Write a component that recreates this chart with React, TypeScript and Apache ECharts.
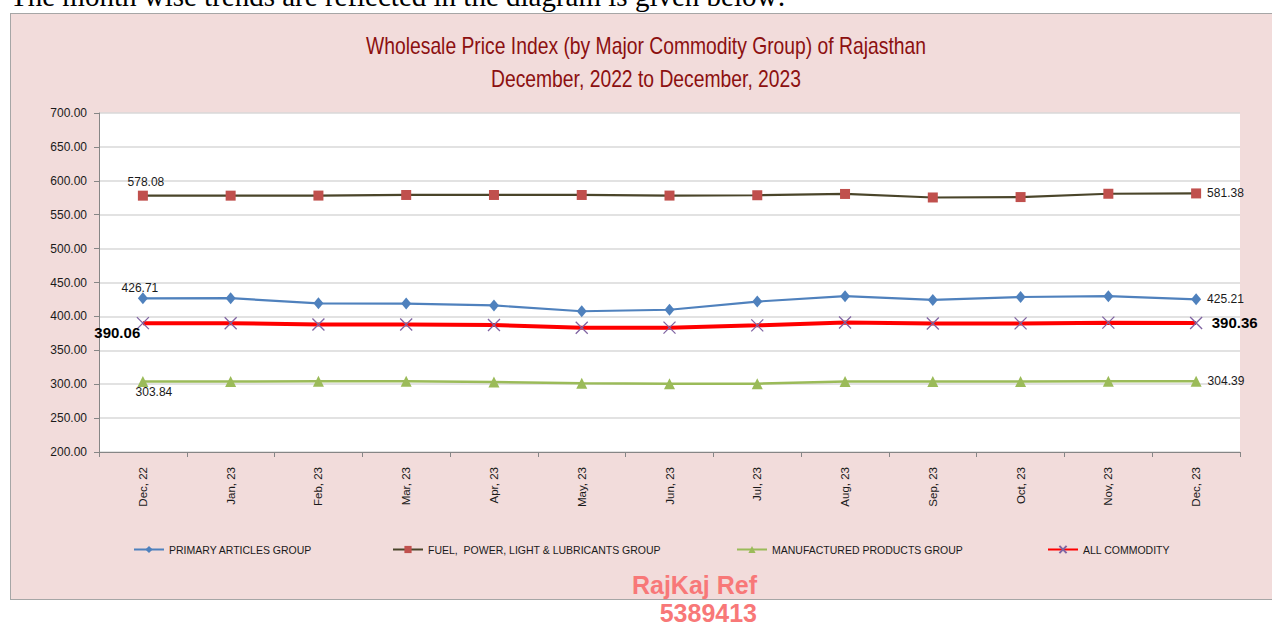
import React, { useEffect, useRef } from "react";
import * as echarts from "echarts";

const categories = ["Dec, 22", "Jan, 23", "Feb, 23", "Mar, 23", "Apr, 23", "May, 23", "Jun, 23", "Jul, 23", "Aug, 23", "Sep, 23", "Oct, 23", "Nov, 23", "Dec, 23"];
const primary = [426.71, 426.9, 419.3, 418.9, 416.2, 407.6, 409.8, 421.9, 429.8, 424.3, 428.6, 429.8, 425.21];
const fuel = [578.08, 578.1, 578.2, 579.1, 579.1, 579.1, 578.2, 578.7, 580.6, 575.4, 576.0, 580.9, 581.38];
const manufactured = [303.84, 303.9, 304.3, 304.3, 303.3, 301.5, 300.8, 300.8, 303.8, 303.8, 303.8, 304.3, 304.39];
const allCommodity = [390.06, 390.0, 388.0, 388.0, 387.4, 383.2, 383.4, 386.8, 391.0, 389.6, 389.7, 390.8, 390.36];
const yTicks = { min: 200, max: 700, interval: 50 };
const seriesNames = ["PRIMARY ARTICLES GROUP", "FUEL,  POWER, LIGHT & LUBRICANTS GROUP", "MANUFACTURED PRODUCTS GROUP", "ALL COMMODITY"];

const SANS = '"Liberation Sans", Arial, sans-serif';

function withEndLabels(vals: number[], first: any, last: any) {
  return vals.map((v, i) => {
    if (i === 0) return { value: v, label: { show: true, ...first } };
    if (i === vals.length - 1) return { value: v, label: { show: true, ...last } };
    return v;
  });
}

export default function App() {
  const ref = useRef<HTMLDivElement>(null);
  useEffect(() => {
    if (!ref.current) return;
    const chart = echarts.init(ref.current, null, { renderer: "svg" });
    const lbl = { color: "#1a1a1a", fontFamily: SANS, fontSize: 12, formatter: (p: any) => Number(p.value).toFixed(2) };
    const lblBold = { ...lbl, fontWeight: "bold", fontSize: 15, color: "#000" };
    const legendCommon = {
      top: 539,
      itemWidth: 30,
      itemHeight: 9,
      itemGap: 4,
      textStyle: { fontFamily: SANS, fontSize: 10.5, color: "#1a1a1a" },
    };
    chart.setOption({
      animation: false,
      backgroundColor: "transparent",
      graphic: [
        {
          type: "text",
          left: 10,
          top: -19,
          style: {
            text: "The month wise trends are reflected in the diagram is given below:",
            font: '29px "Liberation Serif", "Times New Roman", serif',
            fill: "#000",
          },
        },
        {
          type: "text",
          x: 646,
          y: 46,
          scaleX: 0.84,
          style: {
            text: "Wholesale Price Index (by Major Commodity Group) of Rajasthan",
            font: '23px ' + SANS,
            fill: "#8C1010",
            align: "center",
            verticalAlign: "middle",
          },
        },
        {
          type: "text",
          x: 646,
          y: 79,
          scaleX: 0.84,
          style: {
            text: "December, 2022 to December, 2023",
            font: '23px ' + SANS,
            fill: "#8C1010",
            align: "center",
            verticalAlign: "middle",
          },
        },
        {
          type: "text",
          x: 757,
          y: 585,
          z: 100,
          style: {
            text: "RajKaj Ref",
            font: 'bold 25px ' + SANS,
            fill: "#F87878",
            align: "right",
            verticalAlign: "middle",
          },
        },
        {
          type: "text",
          x: 757,
          y: 613,
          z: 100,
          style: {
            text: "5389413",
            font: 'bold 25px ' + SANS,
            fill: "#F87878",
            align: "right",
            verticalAlign: "middle",
          },
        },
      ],
      legend: [
        { ...legendCommon, left: 128, data: [seriesNames[0]] },
        { ...legendCommon, left: 387, data: [seriesNames[1]] },
        { ...legendCommon, left: 731, data: [seriesNames[2]] },
        { ...legendCommon, left: 1042, data: [seriesNames[3]] },
      ],
      grid: {
        left: 99,
        right: 32,
        top: 113,
        bottom: 174,
        show: true,
        backgroundColor: "#ffffff",
        borderWidth: 0,
      },
      xAxis: {
        type: "category",
        data: categories,
        boundaryGap: true,
        axisLine: { lineStyle: { color: "#868686", width: 1 } },
        axisTick: { show: true, length: 5, lineStyle: { color: "#868686" } },
        axisLabel: { rotate: 90, margin: 15, fontFamily: SANS, fontSize: 11.5, color: "#1a1a1a" },
        splitLine: { show: false },
      },
      yAxis: {
        type: "value",
        min: yTicks.min,
        max: yTicks.max,
        interval: yTicks.interval,
        axisLine: { show: true, lineStyle: { color: "#868686", width: 1 } },
        axisTick: { show: true, length: 5, lineStyle: { color: "#868686" } },
        axisLabel: { margin: 12, fontFamily: SANS, fontSize: 12, color: "#1a1a1a", formatter: (v: number) => v.toFixed(2) },
        splitLine: { show: true, lineStyle: { color: "#D9D9D9", width: 1.5 } },
      },
      series: [
        {
          name: seriesNames[0],
          type: "line",
          symbol: "diamond",
          symbolSize: [10, 12],
          lineStyle: { color: "#4F81BD", width: 2.2 },
          itemStyle: { color: "#4F81BD" },
          label: { show: false },
          data: withEndLabels(primary, { ...lbl, position: "top", distance: 0, offset: [-3, 2] }, { ...lbl, position: "right", distance: 6 }),
          z: 3,
        },
        {
          name: seriesNames[1],
          type: "line",
          symbol: "rect",
          symbolSize: 10,
          lineStyle: { color: "#4A452A", width: 2.2 },
          itemStyle: { color: "#C0504D" },
          label: { show: false },
          data: withEndLabels(fuel, { ...lbl, position: "top", distance: 3, offset: [3, 0] }, { ...lbl, position: "right", distance: 6 }),
          z: 3,
        },
        {
          name: seriesNames[2],
          type: "line",
          symbol: "triangle",
          symbolSize: [11, 11],
          lineStyle: { color: "#9BBB59", width: 2.5 },
          itemStyle: { color: "#9BBB59" },
          label: { show: false },
          data: withEndLabels(manufactured, { ...lbl, position: "bottom", distance: 0, offset: [11, -1] }, { ...lbl, position: "right", distance: 6 }),
          z: 3,
        },
        {
          name: seriesNames[3],
          type: "line",
          symbol: "path://M0,0L10,10M10,0L0,10",
          symbolSize: 12,
          lineStyle: { color: "#FF0000", width: 4 },
          itemStyle: { color: "#8064A2", borderColor: "#8064A2", borderWidth: 1.3 },
          label: { show: false },
          data: withEndLabels(allCommodity, { ...lblBold, position: "left", distance: 0, offset: [4, 9] }, { ...lblBold, position: "right", distance: 9 }),
          z: 4,
        },
      ],
    });
    return () => chart.dispose();
  }, []);

  return (
    <div style={{ position: "fixed", left: 0, top: 0, width: 1272, height: 626, background: "#fff", overflow: "hidden" }}>
      <div
        style={{
          position: "absolute",
          left: 10,
          top: 13,
          width: 1300,
          height: 587,
          background: "#F2DCDB",
          border: "1px solid #A6A6A6",
          boxSizing: "border-box",
        }}
      />
      <div ref={ref} style={{ position: "absolute", left: 0, top: 0, width: 1272, height: 626 }} />
    </div>
  );
}
